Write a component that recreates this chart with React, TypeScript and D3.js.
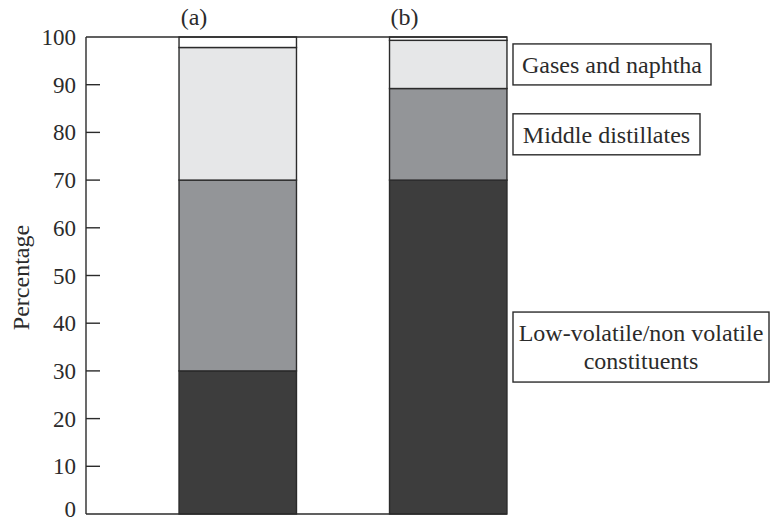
import * as d3 from "d3";

// stacked shares of the two samples, bottom to top
const groups = ["(a)", "(b)"];
const lowVolatile = [30, 70];
const middleDistillates = [40, 19.2];
const gasesNaphtha = [27.8, 10.1];
const remainder = [2.2, 0.7];

const yTicks = [0, 10, 20, 30, 40, 50, 60, 70, 80, 90, 100];
const legendLines = [
  ["Gases and naphtha"],
  ["Middle distillates"],
  ["Low-volatile/non volatile", "constituents"],
];

const keys = ["low", "middle", "gases", "rest"];
const colors: Record<string, string> = {
  low: "#3d3d3d",
  middle: "#939598",
  gases: "#e6e7e8",
  rest: "#ffffff",
};

const rows = groups.map((g, i) => ({
  group: g,
  low: lowVolatile[i],
  middle: middleDistillates[i],
  gases: gasesNaphtha[i],
  rest: remainder[i],
}));

export default function App() {
  const width = 771;
  const height = 521;
  const ink = "#2b2b2b";
  const txt = { fontFamily: "Liberation Serif, Times New Roman, serif" };

  const x0 = 86;
  const y = d3.scaleLinear().domain([0, 100]).range([514, 37]);
  // last band sits flush with the right edge of the frame
  const x = d3.scaleBand().domain(groups).range([x0, 600]).padding(0.442);

  const series = d3.stack<any>().keys(keys)(rows);
  const xRight = x(groups[1])! + x.bandwidth();

  // annotation boxes line up with the segments of bar (b)
  const bIdx = 1;
  const boxCenters = [2, 1, 0].map((k) => {
    const s = series[k][bIdx];
    return y((s[0] + s[1]) / 2);
  });
  const boxSizes = [
    { w: 198, h: 41 },
    { w: 187, h: 41 },
    { w: 256, h: 70 },
  ];
  const boxX = 513;

  return (
    <svg
      width={width}
      height={height}
      style={{ position: "absolute", left: 0, top: 0, background: "#fff" }}
    >
      {/* bars */}
      {series.map((s) =>
        s.map((d, i) => (
          <rect
            key={s.key + i}
            x={x(groups[i])}
            y={y(d[1])}
            width={x.bandwidth()}
            height={y(d[0]) - y(d[1])}
            fill={colors[s.key]}
            stroke={ink}
            strokeWidth={1.4}
          />
        ))
      )}

      {/* frame */}
      <line x1={x0} x2={xRight} y1={y(100)} y2={y(100)} stroke={ink} strokeWidth={1.4} />
      <line x1={x0} x2={xRight} y1={y(0)} y2={y(0)} stroke={ink} strokeWidth={1.4} />
      <line x1={x0} x2={x0} y1={y(0)} y2={y(100)} stroke={ink} strokeWidth={1.4} />

      {/* y ticks */}
      {yTicks.map((t) => (
        <g key={t}>
          {t > 0 && t < 100 && (
            <line x1={x0} x2={x0 + 14} y1={y(t)} y2={y(t)} stroke={ink} strokeWidth={1.4} />
          )}
          <text
            x={x0 - 10}
            y={y(t)}
            dy={t === 0 ? "0.15em" : "0.35em"}
            textAnchor="end"
            fontSize={23}
            fill={ink}
            style={txt}
          >
            {t}
          </text>
        </g>
      ))}

      <text
        transform={`translate(21,${y(50) + 2}) rotate(-90)`}
        textAnchor="middle"
        dy="0.35em"
        fontSize={24}
        fill={ink}
        style={txt}
      >
        Percentage
      </text>

      {/* group labels */}
      {groups.map((g) => (
        <text
          key={g}
          x={x(g)! + 15}
          y={17}
          dy="0.35em"
          textAnchor="middle"
          fontSize={24}
          fill={ink}
          style={txt}
        >
          {g}
        </text>
      ))}

      {/* annotation boxes */}
      {legendLines.map((lines, i) => {
        const { w, h } = boxSizes[i];
        const cy = boxCenters[i];
        const lineH = 28;
        return (
          <g key={i}>
            <rect
              x={boxX}
              y={cy - h / 2}
              width={w}
              height={h}
              fill="#fff"
              stroke={ink}
              strokeWidth={1.4}
            />
            {lines.map((ln, j) => (
              <text
                key={j}
                x={boxX + w / 2}
                y={cy + (j - (lines.length - 1) / 2) * lineH}
                dy="0.35em"
                textAnchor="middle"
                fontSize={24}
                fill={ink}
                style={txt}
              >
                {ln}
              </text>
            ))}
          </g>
        );
      })}
    </svg>
  );
}
